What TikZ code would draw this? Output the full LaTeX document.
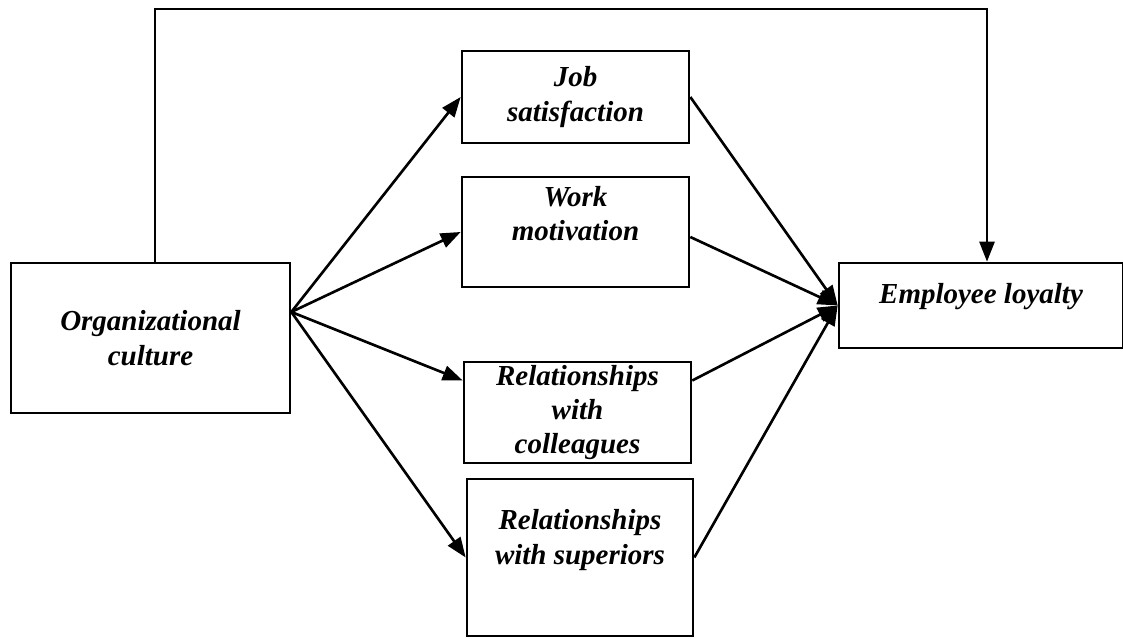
\documentclass[tikz,border=0pt]{standalone}
\usepackage{fontspec}
\setmainfont{Liberation Serif}
\usepackage{tikz}
\usetikzlibrary{arrows.meta}

\begin{document}
\begin{tikzpicture}
	\useasboundingbox (0,0) rectangle (22.46,12.76);
	\begin{scope}[every node/.style={rectangle,draw,line width=1.5pt,align=center,
			font=\fontsize{16.5}{19.5}\selectfont\bfseries\itshape}]
		\node[minimum width=5.58cm,minimum height=3cm] (OC) at (3.01,6.0) {Organizational\\culture};
		\node[minimum width=4.54cm,minimum height=1.84cm] (JS) at (11.51,10.82) {Job\\satisfaction};
		\node[minimum width=4.54cm,minimum height=2.2cm] (WM) at (11.51,8.12) {Work\\motivation\\[2pt]};
		\node[minimum width=4.54cm,minimum height=2.02cm,inner ysep=0pt] (RC) at (11.55,4.51) {Relationships\\with\\colleagues};
		\node[minimum width=4.52cm,minimum height=3.14cm] (RS) at (11.6,1.61) {Relationships\\with superiors\\[4pt]~};
		\node[minimum width=5.68cm,minimum height=1.7cm,text depth=0.5cm] (EL) at (19.62,6.65) {Employee loyalty};
	\end{scope}

	\coordinate (src) at ([yshift=0.52cm]OC.east);
	\coordinate (top) at (0,12.58);

	\begin{scope}[every edge/.style={draw=black,line width=1.5pt},
		>={Triangle[length=0.4cm,width=0.3cm]}]
		\path [->] (src) edge (JS.west);
		\path [->] (src) edge (WM.west);
		\path [->] (src) edge ([yshift=0.64cm]RC.west);
		\path [->] (src) edge (RS.west);
		\path [->] (JS.east) edge (EL.west);
		\path [->] ([yshift=-0.1cm]WM.east) edge (EL.west);
		\path [->] ([yshift=0.64cm]RC.east) edge (EL.west);
		\path [->] (RS.east) edge (EL.west);
		\draw [->,line width=1.5pt] ([xshift=0.09cm]OC.north) -- ([xshift=0.09cm]OC.north |- top)
			-| ([xshift=0.12cm]EL.north);
	\end{scope}
\end{tikzpicture}
\end{document}
